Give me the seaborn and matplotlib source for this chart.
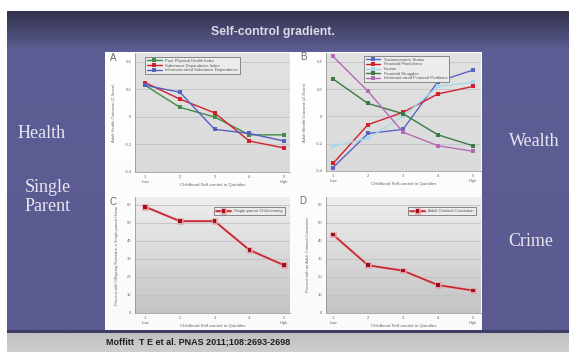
import numpy as np
import pandas as pd
import matplotlib
matplotlib.use("Agg")
import matplotlib.pyplot as plt
import matplotlib.patheffects as pe
import seaborn as sns

# ---- data -------------------------------------------------------------
quintiles = [1, 2, 3, 4, 5]
quintile_labels = ["1\nLow", "2", "3", "4", "5\nHigh"]

health_labels = ["Poor Physical Health Index",
                 "Substance Dependence Index",
                 "Informant-rated Substance Dependence"]
poor_physical_health = [0.23, 0.07, 0.0, -0.13, -0.13]
substance_dependence = [0.25, 0.13, 0.03, -0.175, -0.225]
informant_substance = [0.23, 0.18, -0.09, -0.12, -0.175]

wealth_labels = ["Socioeconomic Status",
                 "Financial Planfulness",
                 "Income",
                 "Financial Struggles",
                 "Informant-rated Financial Problems"]
socioeconomic_status = [-0.375, -0.125, -0.095, 0.255, 0.34]
financial_planfulness = [-0.345, -0.06, 0.03, 0.165, 0.22]
income = [-0.22, -0.16, 0.0, 0.22, 0.25]
financial_struggles = [0.275, 0.095, 0.02, -0.135, -0.215]
informant_financial = [0.44, 0.185, -0.115, -0.215, -0.255]

single_parent_label = "Single-parent Child-rearing"
single_parent_pct = [59, 51, 51, 35, 26.5]

crime_label = "Adult Criminal Conviction"
crime_pct = [43.5, 26.5, 23.5, 15.5, 12.5]

z_ticks = [-0.4, -0.2, 0, 0.2, 0.4]
z_tick_labels = ["-0.4", "-0.2", "0", "0.2", "0.4"]
pct_ticks = [0, 10, 20, 30, 40, 50, 60]

# ---- styling ----------------------------------------------------------
sns.set_style("white")
plt.rcParams["font.family"] = ["Liberation Sans", "DejaVu Sans"]

W, H = 569, 352
fig = plt.figure(figsize=(W / 100, H / 100), dpi=100, facecolor="white")


def px_axes(left, top, right, bottom, **kw):
    return fig.add_axes([left / W, 1 - bottom / H, (right - left) / W,
                         (bottom - top) / H], **kw)


def vgrad(ax, x0, x1, y0, y1, c_top, c_bot, z=0):
    t = np.linspace(0, 1, 64)[:, None, None]
    img = (1 - t) * np.array(c_top)[None, None, :] + t * np.array(c_bot)[None, None, :]
    img = np.repeat(img, 2, axis=1) / 255.0
    ax.imshow(img, extent=(x0, x1, y1, y0), aspect="auto", origin="upper",
              zorder=z, interpolation="bilinear")


# ---- slide background --------------------------------------------------
bg = fig.add_axes([0, 0, 1, 1])
bg.set_xlim(0, W)
bg.set_ylim(H, 0)
bg.axis("off")
vgrad(bg, 7, W, 11, 50, (50, 50, 76), (92, 92, 146))
vgrad(bg, 7, W, 50, 333, (94, 94, 150), (90, 90, 144))
vgrad(bg, 7, W, 330, 333, (62, 62, 100), (62, 62, 100), z=1)
vgrad(bg, 105, 482, 52, 333, (255, 255, 255), (250, 250, 250), z=0.5)
bg.set_xlim(0, W)
bg.set_ylim(H, 0)

fig.text(273 / W, 1 - 32 / H, "Self-control gradient.", ha="center",
         va="center", fontsize=8.8, fontweight="bold", color="#dcdce8")

side_kw = dict(family=["Liberation Serif", "DejaVu Serif"], fontsize=13,
               color="#e6e6f0", ha="center", va="center")
fig.text(42 / W, 1 - 133 / H, "Health", **side_kw)
fig.text(48 / W, 1 - 197 / H, "Single\nParent", linespacing=1.1, **side_kw)
fig.text(534 / W, 1 - 142 / H, "Wealth", **side_kw)
fig.text(531 / W, 1 - 242 / H, "Crime", **side_kw)

for letter, x, y in [("A", 113, 58), ("B", 303, 57), ("C", 113, 202), ("D", 303, 201)]:
    fig.text(x / W, 1 - y / H, letter, fontsize=7, color="#6a6a6a",
             ha="center", va="center")


def style_panel(ax, yticks, ylabels, ylim, xlim, ylabel, grad_top, grad_bot):
    t = np.linspace(0, 1, 64)[:, None, None]
    img = (1 - t) * np.array(grad_top)[None, None, :] + t * np.array(grad_bot)[None, None, :]
    img = np.repeat(img, 2, axis=1) / 255.0
    ax.imshow(img, extent=(xlim[0], xlim[1], ylim[0], ylim[1]),
              aspect="auto", origin="upper", zorder=0)
    ax.set_xlim(*xlim)
    ax.set_ylim(*ylim)
    ax.set_yticks(yticks)
    ax.set_yticklabels(ylabels)
    ax.set_xticks(quintiles)
    ax.set_xticklabels(quintile_labels)
    ax.tick_params(labelsize=3, colors="#666666", length=1.5, width=0.4, pad=1)
    ax.grid(axis="y", color="#c2c2c2", lw=0.6)
    ax.set_axisbelow("line")
    for s in ["top", "right"]:
        ax.spines[s].set_visible(False)
    for s in ["left", "bottom"]:
        ax.spines[s].set_color("#8a8a8a")
        ax.spines[s].set_linewidth(0.5)
    ax.set_xlabel("Childhood Self-control in Quintiles", fontsize=3.2,
                  color="#666666", labelpad=-1)
    ax.set_ylabel(ylabel, fontsize=3, color="#666666", labelpad=6)


def legend(ax, loc, anchor):
    leg = ax.legend(loc=loc, bbox_to_anchor=anchor, fontsize=3, frameon=True,
                    fancybox=False, edgecolor="#777777", facecolor="#ececec",
                    framealpha=1, handlelength=3.5, borderpad=0.5,
                    labelspacing=0.15, handletextpad=0.8)
    leg.get_frame().set_linewidth(0.6)
    for txt in leg.get_texts():
        txt.set_color("#555555")


line_kw = dict(marker="s", markersize=2.4, linewidth=1.0, markeredgewidth=0)

# ---- A: health -----------------------------------------------------------
axA = px_axes(135, 53, 290, 172)
for vals, lab, col in zip([poor_physical_health, substance_dependence, informant_substance],
                          health_labels, ["#3f8f45", "#d0222e", "#5560c0"]):
    sns.lineplot(x=quintiles, y=vals, ax=axA, color=col, label=lab, **line_kw)
style_panel(axA, z_ticks, z_tick_labels, (-0.4, 0.465), (0.71, 5.17),
            "Adult Health Outcome (Z-Score)", (226, 226, 226), (218, 218, 218))
legend(axA, "upper left", (0.05, 0.985))

# ---- B: wealth -----------------------------------------------------------
axB = px_axes(326, 53, 481, 171)
for vals, lab, col in zip([socioeconomic_status, financial_planfulness, income,
                           financial_struggles, informant_financial],
                          wealth_labels,
                          ["#5a64c4", "#d0222e", "#a8d8ee", "#3a7a44", "#b46ab8"]):
    sns.lineplot(x=quintiles, y=vals, ax=axB, color=col, label=lab, **line_kw)
style_panel(axB, z_ticks, z_tick_labels, (-0.4, 0.465), (0.8, 5.23),
            "Adult Wealth Outcome (Z-Score)", (226, 226, 226), (218, 218, 218))
legend(axB, "upper left", (0.23, 0.995))

# ---- C and D: percentages ---------------------------------------------------
halo = [pe.Stroke(linewidth=2.0, foreground="#e6a0a6", alpha=0.8), pe.Normal()]
red_kw = dict(marker="s", markersize=2.6, linewidth=1.1, color="#c41e2a",
              markerfacecolor="#9a0f18", markeredgewidth=0)

axC = px_axes(135, 197, 290, 313)
sns.lineplot(x=quintiles, y=single_parent_pct, ax=axC, label=single_parent_label,
             path_effects=halo, **red_kw)
style_panel(axC, pct_ticks, [str(v) for v in pct_ticks], (0, 64.4), (0.71, 5.17),
            "Percent with Offspring Raised in a Single-parent Home",
            (238, 238, 238), (196, 196, 196))
legend(axC, "upper right", (0.98, 0.93))

axD = px_axes(326, 197, 481, 313)
sns.lineplot(x=quintiles, y=crime_pct, ax=axD, label=crime_label,
             path_effects=halo, **red_kw)
style_panel(axD, pct_ticks, [str(v) for v in pct_ticks], (0, 64.4), (0.8, 5.23),
            "Percent with an Adult Criminal Conviction",
            (238, 238, 238), (196, 196, 196))
legend(axD, "upper right", (0.98, 0.93))

# gray footer drawn over the panels' lower edge, with the citation
foot = fig.add_axes([0, 0, 1, (H - 333) / H])
foot.axis("off")
vgrad(foot, 7, W, 333, H, (192, 192, 194), (206, 206, 208))
foot.set_xlim(0, W)
foot.set_ylim(H, 333)
foot.text(106, 342, "Moffitt  T E et al. PNAS 2011;108:2693-2698",
          ha="left", va="center", fontsize=6.5, fontweight="bold",
          color="#1e1e1e", zorder=5)

fig.savefig("out.png", dpi=100, facecolor="white")
